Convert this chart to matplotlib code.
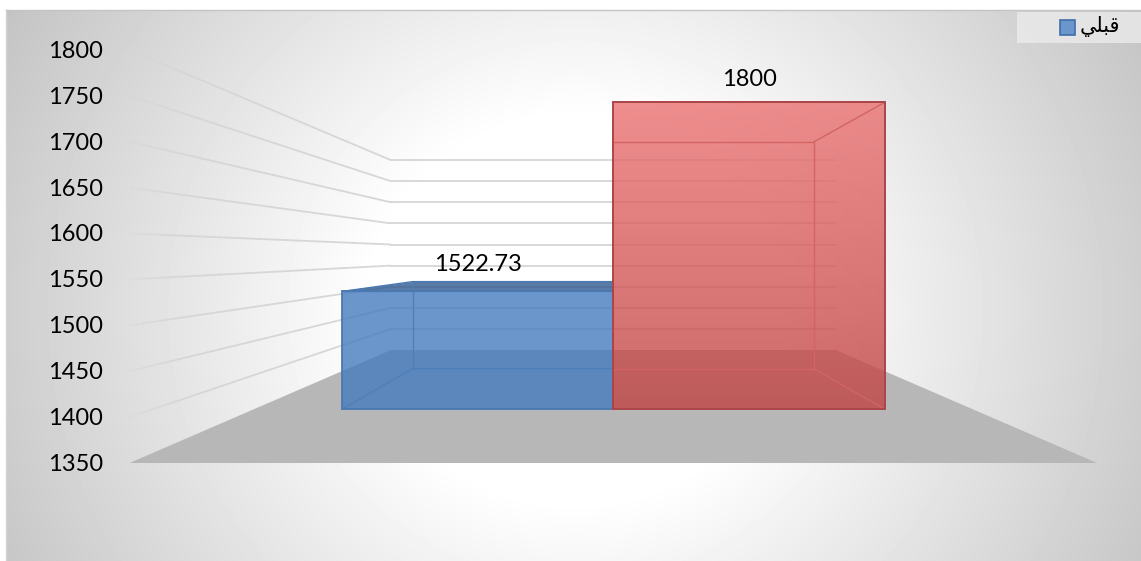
import numpy as np
import matplotlib
matplotlib.use('Agg')
import matplotlib.pyplot as plt
from matplotlib.patches import Polygon, Rectangle
from matplotlib.collections import LineCollection
from matplotlib.colors import LinearSegmentedColormap, to_rgb

plt.rcParams['font.family'] = ['Lato', 'DejaVu Sans']

# data
ticks = [1350, 1400, 1450, 1500, 1550, 1600, 1650, 1700, 1750, 1800]
values = [1522.73, 1800]
value_labels = ['1522.73', '1800']
# shaped forms in visual order, matplotlib does no Arabic shaping itself
legend_label = '\uFEF2\uFEE0\uFE92\uFED7'

BASE = ticks[0]
S_FRONT, S_BAR_FRONT, S_BAR_BACK, S_BACK = 0.918, 0.682, 0.504, 0.422
CX = 613.3
FLOOR_U = 527
BAR_U = [(-398, 0), (0, 398)]
GRID = '#d6d6d6'


def proj(u, s, v=BASE):
    # perspective: s is pixels per value unit at that depth
    return (CX + u * s, 350 + (s - S_BACK) * 227.8 - (v - BASE) * s)


fig = plt.figure(figsize=(11.41, 5.61), dpi=100)
ax = fig.add_axes([0, 0, 1, 1])
ax.axis('off')

# chart background
xx, yy = np.meshgrid(np.arange(6, 1141), np.arange(10, 561))
t = np.sqrt(((xx - 575) / 640) ** 2 + ((yy - 310) / 600) ** 2)
grey = 1 - 0.2 * np.clip((t - 0.32) / 0.6, 0, None)
ax.imshow(grey, extent=(6, 1141, 561, 10), cmap='gray', vmin=0, vmax=1, aspect='auto', zorder=0)
ax.plot([5.5, 5.5], [10, 561], color='#d4d4d4', lw=1, zorder=1)
ax.plot([5.5, 1141], [10, 10], color='#c4c4c4', lw=1, zorder=1)

# gridlines: side wall fading out to the left, then back wall
rgb = to_rgb(GRID)
for v in ticks[1:]:
    a, b, c = proj(-FLOOR_U, S_FRONT, v), proj(-FLOOR_U, S_BACK, v), proj(FLOOR_U, S_BACK, v)
    xs, ys = np.linspace(a[0], b[0], 40), np.linspace(a[1], b[1], 40)
    segs = [[(xs[i], ys[i]), (xs[i + 1], ys[i + 1])] for i in range(39)]
    cols = [rgb + (min(1.0, 0.35 + i / 10),) for i in range(39)]
    ax.add_collection(LineCollection(segs, colors=cols, linewidths=1.3, zorder=2))
    ax.plot([b[0], c[0]], [b[1], c[1]], color=GRID, lw=1.3, zorder=2)

# floor
floor = [proj(-FLOOR_U, S_FRONT), proj(FLOOR_U, S_FRONT), proj(FLOOR_U, S_BACK), proj(-FLOOR_U, S_BACK)]
ax.add_patch(Polygon(floor, closed=True, fc='#b7b7b7', ec='none', zorder=3))

# blue bar
(u0, u1), v = BAR_U[0], values[0]
front = [proj(u0, S_BAR_FRONT), proj(u1, S_BAR_FRONT), proj(u1, S_BAR_FRONT, v), proj(u0, S_BAR_FRONT, v)]
top = [proj(u0, S_BAR_FRONT, v), proj(u1, S_BAR_FRONT, v), proj(u1, S_BAR_BACK, v), proj(u0, S_BAR_BACK, v)]
ax.add_patch(Polygon(front, closed=True, fc='#457cbf', alpha=0.8, ec='none', zorder=4))
ax.add_patch(Polygon(top, closed=True, fc='#2f5a90', alpha=0.8, ec='none', zorder=4))
ax.add_patch(Polygon(front, closed=True, fc='none', ec='#4a78b0', lw=1.3, zorder=6))
ax.add_patch(Polygon(top, closed=True, fc='none', ec='#4a78b0', lw=1, zorder=6))
inner = [proj(u0, S_BAR_FRONT), proj(u0, S_BAR_BACK), proj(u1, S_BAR_BACK)]
ax.plot(*zip(*inner), color='#4f7fb8', lw=1, zorder=5)
ax.plot(*zip(proj(u0, S_BAR_BACK), proj(u0, S_BAR_BACK, v)), color='#4f7fb8', lw=1, zorder=5)

# red bar with its vertical fade
(u0, u1), v = BAR_U[1], values[1]
outline = [proj(u0, S_BAR_FRONT), proj(u1, S_BAR_FRONT), proj(u1, S_BAR_FRONT, v), proj(u0, S_BAR_FRONT, v)]
red_cmap = LinearSegmentedColormap.from_list('red_fade', ['#ec7272', '#c04343'])
im = ax.imshow(np.linspace(0, 1, 256)[:, None], extent=(outline[0][0], outline[1][0], outline[0][1], outline[2][1]),
               cmap=red_cmap, alpha=0.8, aspect='auto', zorder=7)
patch = Polygon(outline, closed=True, fc='none', ec='#ab454a', lw=1.4, zorder=9)
ax.add_patch(patch)
im.set_clip_path(patch)
back = [proj(u0, S_BAR_BACK, v), proj(u1, S_BAR_BACK, v), proj(u1, S_BAR_BACK), proj(u0, S_BAR_BACK)]
ax.plot(*zip(*back), color='#d26464', lw=1, zorder=8)
ax.plot(*zip(proj(u1, S_BAR_BACK, v), proj(u1, S_BAR_FRONT, v)), color='#d26464', lw=1, zorder=8)
ax.plot(*zip(proj(u1, S_BAR_BACK), proj(u1, S_BAR_FRONT)), color='#d26464', lw=1, zorder=8)

# tick labels
for v in ticks:
    ax.text(103, proj(0, S_FRONT, v)[1] + 1.5, str(v), ha='right', va='center', fontsize=17, color='black', zorder=10)

# value labels sit a fixed distance above the front top edge
for (u0, u1), v, lab, off in zip(BAR_U, values, value_labels, [26.5, 22.5]):
    x = proj((u0 + u1) / 2, S_BAR_FRONT)[0]
    y = proj(0, S_BAR_FRONT, v)[1] - off
    ax.text(x, y, lab, ha='center', va='center', fontsize=17, color='black', zorder=10)

# legend
ax.add_patch(Rectangle((1017, 12), 124, 31, fc='#ebebeb', ec='none', alpha=0.8, zorder=10))
ax.add_patch(Rectangle((1059.5, 19.5), 15, 15, fc='#6a96cc', ec='#3f6ea8', lw=1.2, zorder=11))
ax.text(1099.5, 26, legend_label, family='DejaVu Sans', ha='center', va='center', fontsize=15, color='black', zorder=11)

ax.set_xlim(0, 1141)
ax.set_ylim(561, 0)
fig.savefig('out.png', dpi=100, facecolor='white')
